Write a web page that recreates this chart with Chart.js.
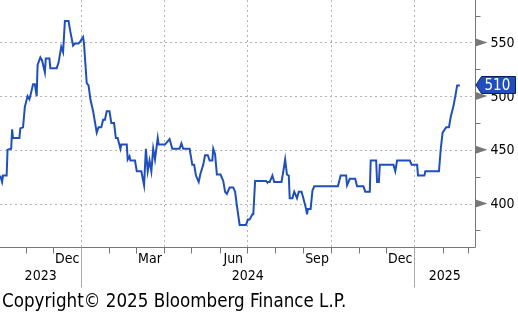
<!DOCTYPE html>
<html>
<head>
<meta charset="utf-8">
<script src="https://cdn.jsdelivr.net/npm/chart.js@4.4.1/dist/chart.umd.min.js"></script>
<style>
  html, body { margin: 0; padding: 0; background: #fff; }
</style>
</head>
<body>
<canvas id="grafico" width="518" height="314"></canvas>
<script>
// dias contados a partir de 2024-01-01 (negativos = 2023)
const dias = [
  -89, -87, -86, -82, -81, -77, -76, -75, -68, -67, -64, -62, -59, -57, -56, -53, -51, -49, -48, -45,
  -43, -40, -39, -35, -34, -27, -25, -22, -20, -18, -14, -12, -9, -7, -3, -1, 2, 3, 6, 8,
  10, 13, 17, 19, 22, 24, 26, 28, 31, 33, 36, 38, 40, 43, 44, 50, 51, 53, 54, 59,
  61, 66, 69, 71, 73, 75, 77, 79, 81, 84, 85, 92, 94, 97, 100, 108, 110, 112, 119, 120,
  122, 124, 126, 129, 131, 134, 136, 139, 141, 144, 145, 147, 149, 153, 156, 158, 160, 163, 167, 169,
  171, 174, 181, 183, 185, 188, 189, 191, 203, 204, 207, 210, 212, 220, 222, 224, 226, 228, 229, 232,
  234, 237, 239, 242, 244, 247, 248, 249, 252, 254, 256, 282, 285, 291, 292, 295, 301, 303, 310, 312,
  317, 318, 324, 325, 327, 328, 343, 345, 347, 361, 363, 369, 370, 377, 378, 393, 395, 397, 401, 404,
  406, 409, 411, 413, 416
];
const valores = [
  426, 420, 426, 426, 450, 451, 469, 461, 461, 470, 471, 490, 500, 497, 500, 511, 511, 500, 529, 536,
  533, 522, 535, 535, 526, 526, 531, 546, 541, 570, 570, 560, 547, 549, 549, 551, 555, 549, 512, 510,
  497, 486, 466, 471, 471, 478, 478, 486, 486, 475, 475, 461, 461, 451, 455, 455, 441, 444, 440, 440,
  430, 430, 417, 451, 430, 440, 430, 451, 441, 461, 455, 455, 457, 460, 451, 451, 456, 451, 451, 446,
  436, 436, 426, 420, 428, 436, 445, 445, 440, 440, 451, 446, 427, 427, 421, 411, 409, 415, 415, 411,
  398, 380, 380, 385, 385, 390, 390, 421, 421, 420, 420, 426, 420, 420, 430, 441, 427, 426, 405, 405,
  411, 405, 411, 411, 405, 395, 390, 395, 395, 412, 416, 416, 426, 426, 417, 423, 423, 416, 416, 411,
  411, 440, 440, 420, 420, 436, 436, 430, 440, 440, 436, 436, 426, 426, 430, 430, 451, 466, 471, 471,
  481, 491, 500, 510, 510
];
const ticksY = [400, 450, 500, 550];
const mesesRotulo = ['2023-12', '2024-03', '2024-06', '2024-09', '2024-12'];
const textosMes = ['Dec', 'Mar', 'Jun', 'Sep', 'Dec'];
const anos = [2023, 2024, 2025];
const copyright = 'Copyright\u00a9 2025 Bloomberg Finance L.P.';

const AZUL = '#1f4fbf';
const FONTE = '"DejaVu Sans Condensed", "DejaVu Sans", sans-serif';

function diaDe(ano, mes, dia = 1) {
  return (Date.UTC(ano, mes - 1, dia) - Date.UTC(2024, 0, 1)) / 86400000;
}

const eixosBloomberg = {
  id: 'eixosBloomberg',
  beforeDatasetsDraw(chart) {
    const { ctx, chartArea: a, scales: { x, y } } = chart;
    ctx.save();
    ctx.strokeStyle = '#b4b4b4';
    ctx.lineWidth = 1;
    ctx.setLineDash([2, 3]);
    ticksY.forEach(v => {
      const py = Math.round(y.getPixelForValue(v)) + 0.5;
      ctx.beginPath(); ctx.moveTo(a.left, py); ctx.lineTo(a.right, py); ctx.stroke();
    });
    // linhas verticais no inicio de cada trimestre
    [[2023, 10], [2024, 1], [2024, 4], [2024, 7], [2024, 10], [2025, 1]].forEach(([an, m]) => {
      const px = Math.round(x.getPixelForValue(diaDe(an, m))) + 0.5;
      if (px < a.left || px > a.right) return;
      ctx.beginPath(); ctx.moveTo(px, a.top); ctx.lineTo(px, a.bottom); ctx.stroke();
    });
    ctx.restore();
  },
  afterDatasetsDraw(chart) {
    const { ctx, chartArea: a, scales: { x, y } } = chart;
    const dir = Math.round(a.right) + 0.5;
    const base = Math.round(a.bottom) + 0.5;
    ctx.save();
    ctx.setLineDash([]);
    ctx.strokeStyle = '#777';
    ctx.lineWidth = 1;

    // eixos
    ctx.beginPath();
    ctx.moveTo(dir, a.top); ctx.lineTo(dir, base); ctx.lineTo(a.left, base);
    ctx.stroke();

    // marcas mensais
    for (let an = 2023; an <= 2025; an++) {
      for (let m = 1; m <= 12; m++) {
        const px = Math.round(x.getPixelForValue(diaDe(an, m))) + 0.5;
        if (px < a.left || px > a.right) continue;
        ctx.beginPath(); ctx.moveTo(px, base); ctx.lineTo(px, base + 6); ctx.stroke();
      }
    }

    // separadores de ano
    ctx.strokeStyle = '#aaa';
    [2024, 2025].forEach(an => {
      const px = Math.round(x.getPixelForValue(diaDe(an, 1))) + 0.5;
      ctx.beginPath(); ctx.moveTo(px, base); ctx.lineTo(px, base + 40); ctx.stroke();
    });

    // marcas menores do eixo y
    ctx.strokeStyle = '#777';
    for (let v = 375; v <= 575; v += 50) {
      const py = Math.round(y.getPixelForValue(v)) + 0.5;
      ctx.beginPath(); ctx.moveTo(dir, py); ctx.lineTo(dir + 5, py); ctx.stroke();
    }

    // setas e rotulos do eixo y
    ctx.font = '14px ' + FONTE;
    ctx.textBaseline = 'middle';
    ctx.textAlign = 'left';
    ticksY.forEach(v => {
      const py = y.getPixelForValue(v);
      ctx.fillStyle = '#777';
      ctx.beginPath();
      ctx.moveTo(dir, py - 4); ctx.lineTo(dir + 12, py); ctx.lineTo(dir, py + 4);
      ctx.closePath(); ctx.fill();
      ctx.fillStyle = '#000';
      ctx.fillText(String(v), dir + 15, py + 1);
    });

    // rotulos de mes
    ctx.textAlign = 'center';
    mesesRotulo.forEach((mr, i) => {
      const [an, m] = mr.split('-').map(Number);
      const ini = x.getPixelForValue(diaDe(an, m));
      const fim = x.getPixelForValue(diaDe(m === 12 ? an + 1 : an, m === 12 ? 1 : m + 1));
      ctx.fillText(textosMes[i], (ini + fim) / 2, 259);
    });

    // rotulos de ano
    anos.forEach(an => {
      const ini = Math.max(a.left, x.getPixelForValue(diaDe(an, 1)));
      const fim = Math.min(a.right, x.getPixelForValue(diaDe(an + 1, 1)));
      ctx.fillText(String(an), (ini + fim) / 2, 276);
    });

    // copyright
    ctx.textAlign = 'left';
    ctx.textBaseline = 'alphabetic';
    ctx.font = '18.6px ' + FONTE;
    ctx.fillText(copyright, 2, 307);

    // etiqueta do ultimo valor
    const ultimo = valores[valores.length - 1];
    const py = Math.round(y.getPixelForValue(ultimo));
    ctx.fillStyle = AZUL;
    ctx.strokeStyle = '#0b1f5c';
    ctx.beginPath();
    ctx.moveTo(dir + 0.5, py);
    ctx.lineTo(dir + 6, py - 8.5);
    ctx.lineTo(515.5, py - 8.5);
    ctx.lineTo(515.5, py + 8.5);
    ctx.lineTo(dir + 6, py + 8.5);
    ctx.closePath();
    ctx.fill(); ctx.stroke();
    ctx.fillStyle = '#fff';
    ctx.font = '15px ' + FONTE;
    ctx.textBaseline = 'middle';
    ctx.fillText(String(Math.round(ultimo)), dir + 9, py + 1);
    ctx.restore();
  }
};

new Chart(document.getElementById('grafico'), {
  type: 'line',
  data: {
    datasets: [{
      data: dias.map((d, i) => ({ x: d, y: valores[i] })),
      borderColor: AZUL,
      borderWidth: 2,
      pointRadius: 0,
      tension: 0,
      fill: false,
    }],
  },
  options: {
    responsive: false,
    animation: false,
    layout: { padding: { left: 0, top: 0, right: 43, bottom: 67 } },
    plugins: { legend: { display: false }, tooltip: { enabled: false } },
    scales: {
      x: { type: 'linear', display: false, min: -89.3, max: 432.6 },
      y: { display: false, min: 359.5, max: 589.5 },
    },
  },
  plugins: [eixosBloomberg],
});
</script>
</body>
</html>
